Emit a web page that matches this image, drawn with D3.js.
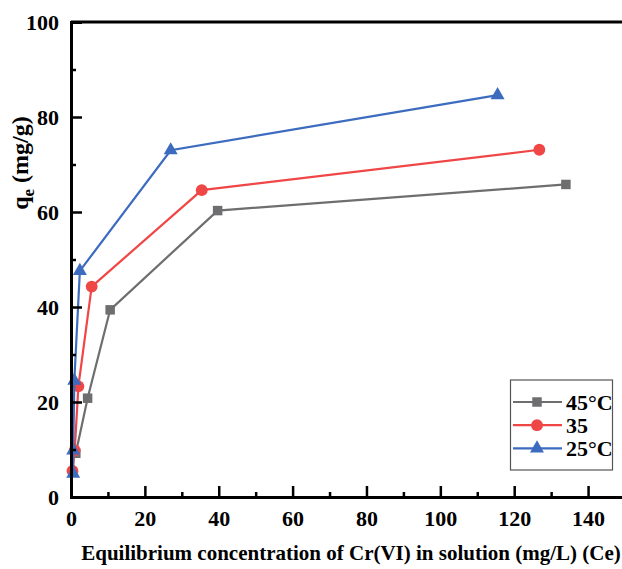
<!DOCTYPE html>
<html>
<head>
<meta charset="utf-8">
<script src="https://cdn.jsdelivr.net/npm/d3@7"></script>
<style>
  html, body { margin: 0; padding: 0; background: #fff; }
  svg { display: block; }
  text { font-family: "Liberation Serif", "Times New Roman", serif; font-weight: bold; fill: #000; }
</style>
</head>
<body>
<svg id="chart" width="622" height="569"></svg>
<script>
// Equilibrium adsorption data: Ce (mg/L) vs qe (mg/g)
const seriesNames = ["45°C", "35", "25°C"];
const seriesColors = ["#6e6e70", "#ef4646", "#3c6bbf"];
const seriesSymbols = ["square", "circle", "triangle"];

const ce45 = [1.3, 4.5, 10.6, 39.7, 134.0];
const qe45 = [9.2, 20.8, 39.4, 60.3, 65.8];

const ce35 = [0.4, 1.0, 2.0, 5.6, 35.4, 126.8];
const qe35 = [5.5, 9.8, 23.3, 44.3, 64.6, 73.1];

const ce25 = [0.6, 0.6, 0.9, 2.4, 27.0, 115.5];
const qe25 = [4.9, 9.8, 24.5, 47.6, 73.0, 84.6];

const xTicks = [0, 20, 40, 60, 80, 100, 120, 140];
const yTicks = [0, 20, 40, 60, 80, 100];
const xMinorTicks = [10, 30, 50, 70, 90, 110, 130, 150];
const yMinorTicks = [10, 30, 50, 70, 90];

const xLabel = "Equilibrium concentration of Cr(VI) in solution (mg/L) (Ce)";

const svg = d3.select("#chart");
const plotLeft = 71, plotRight = 625, plotTop = 22, plotBottom = 497;

const x = d3.scaleLinear().domain([0, 150]).range([plotLeft, plotRight]);
const y = d3.scaleLinear().domain([0, 100]).range([plotBottom, plotTop]);

const series = [
  { name: seriesNames[0], color: seriesColors[0], symbol: seriesSymbols[0], ce: ce45, qe: qe45 },
  { name: seriesNames[1], color: seriesColors[1], symbol: seriesSymbols[1], ce: ce35, qe: qe35 },
  { name: seriesNames[2], color: seriesColors[2], symbol: seriesSymbols[2], ce: ce25, qe: qe25 }
];

const symbolType = { square: d3.symbolSquare, circle: d3.symbolCircle, triangle: d3.symbolTriangle };
const symbolSize = { square: 90, circle: 110, triangle: 85 };

// Lines and markers
const line = d3.line().x(d => x(d[0])).y(d => y(d[1]));
series.forEach(s => {
  const pts = s.ce.map((c, i) => [c, s.qe[i]]);
  svg.append("path")
    .attr("d", line(pts))
    .attr("fill", "none")
    .attr("stroke", s.color)
    .attr("stroke-width", 2.2);
  svg.selectAll(null).data(pts).enter().append("path")
    .attr("transform", d => `translate(${x(d[0])},${y(d[1])})`)
    .attr("d", d3.symbol().type(symbolType[s.symbol]).size(symbolSize[s.symbol]))
    .attr("fill", s.color);
});

// Axes with inward ticks
svg.append("g").attr("transform", `translate(0,${plotBottom})`)
  .call(d3.axisBottom(x).tickValues(xTicks).tickSize(-11).tickPadding(13).tickFormat(d3.format("d")));
svg.append("g").attr("transform", `translate(0,${plotBottom})`)
  .call(d3.axisBottom(x).tickValues(xMinorTicks).tickSize(-5).tickFormat(""))
  .call(g => g.select(".domain").remove());

svg.append("g").attr("transform", `translate(${plotLeft},0)`)
  .call(d3.axisLeft(y).tickValues(yTicks).tickSize(-11).tickPadding(12).tickFormat(d3.format("d")));
svg.append("g").attr("transform", `translate(${plotLeft},0)`)
  .call(d3.axisLeft(y).tickValues(yMinorTicks).tickSize(-5).tickFormat(""))
  .call(g => g.select(".domain").remove());

svg.selectAll(".domain").attr("stroke", "#000").attr("stroke-width", 3);
svg.selectAll(".tick line").attr("stroke", "#000").attr("stroke-width", 2.5);
svg.selectAll(".tick text")
  .attr("font-family", null)
  .attr("font-size", null)
  .style("font-family", "'Liberation Serif', serif")
  .style("font-weight", "bold")
  .style("font-size", "22px");

// Top frame line
svg.append("line")
  .attr("x1", plotLeft).attr("x2", 622).attr("y1", plotTop).attr("y2", plotTop)
  .attr("stroke", "#000").attr("stroke-width", 3);

// Axis titles
svg.append("text")
  .attr("x", 351).attr("y", 560)
  .attr("text-anchor", "middle")
  .style("font-size", "21px")
  .text(xLabel);

const yt = svg.append("text")
  .attr("transform", "translate(28,163) rotate(-90)")
  .attr("text-anchor", "middle")
  .style("font-size", "24px");
yt.append("tspan").text("q");
yt.append("tspan").attr("dy", 6).style("font-size", "17px").text("e");
yt.append("tspan").attr("dy", -6).text(" (mg/g)");

// Legend
const lg = svg.append("g");
lg.append("rect")
  .attr("x", 510.5).attr("y", 380).attr("width", 102).attr("height", 90)
  .attr("fill", "#fff").attr("stroke", "#555").attr("stroke-width", 1.2);
series.forEach((s, i) => {
  const ly = 402 + i * 23.2;
  lg.append("line").attr("x1", 513).attr("x2", 562).attr("y1", ly).attr("y2", ly)
    .attr("stroke", s.color).attr("stroke-width", 2.2);
  lg.append("path")
    .attr("transform", `translate(537,${ly})`)
    .attr("d", d3.symbol().type(symbolType[s.symbol]).size(symbolSize[s.symbol]))
    .attr("fill", s.color);
  lg.append("text").attr("x", 566).attr("y", ly + 7.5)
    .style("font-size", "22px")
    .text(s.name);
});
</script>
</body>
</html>
